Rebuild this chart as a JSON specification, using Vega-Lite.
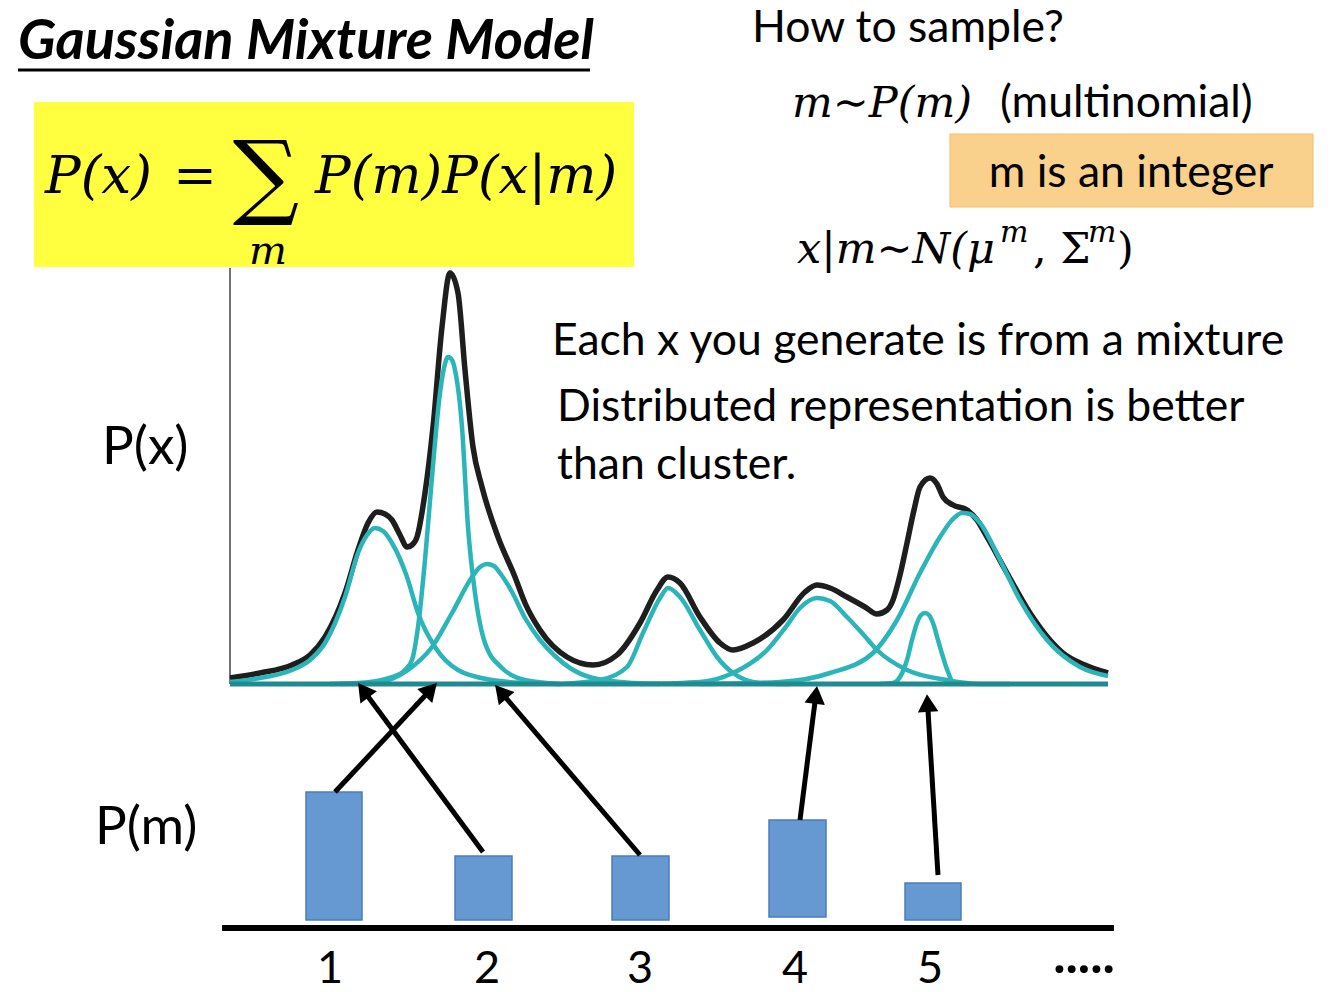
{
  "$schema": "https://vega.github.io/schema/vega-lite/v6.json",
  "width": 1334,
  "height": 992,
  "padding": 0,
  "autosize": {"type": "fit", "contains": "padding"},
  "background": "white",
  "config": {"view": {"stroke": null}},
  "encoding": {
    "x": {"field": "x", "type": "quantitative", "scale": {"domain": [0, 1334], "nice": false, "zero": false}, "axis": null},
    "y": {"field": "y", "type": "quantitative", "scale": {"domain": [0, 992], "nice": false, "zero": false, "reverse": true}, "axis": null}
  },
  "layer": [
    {
      "data": {"values": [{"x": 34, "x2": 634, "y": 102, "y2": 267}]},
      "mark": {"type": "rect", "fill": "#FFFF3F"},
      "encoding": {"x2": {"field": "x2"}, "y2": {"field": "y2"}}
    },
    {
      "data": {"values": [{"x": 950, "x2": 1313, "y": 134, "y2": 207}]},
      "mark": {"type": "rect", "fill": "#F9D08C", "stroke": "#F3BE6E", "strokeWidth": 1},
      "encoding": {"x2": {"field": "x2"}, "y2": {"field": "y2"}}
    },
    {
      "data": {"values": [{"x": 18, "x2": 590, "y": 70}]},
      "mark": {"type": "rule", "color": "#000000", "strokeWidth": 3},
      "encoding": {"x2": {"field": "x2"}}
    },
    {
      "data": {"values": [{"x": 230, "y": 268, "y2": 684}]},
      "mark": {"type": "rule", "color": "#444444", "strokeWidth": 1.5},
      "encoding": {"y2": {"field": "y2"}}
    },
    {
      "data": {"values": [
        {"x": 230, "y": 678}, {"x": 260, "y": 673}, {"x": 292, "y": 665}, {"x": 310, "y": 655}, {"x": 325, "y": 637},
        {"x": 345, "y": 593}, {"x": 358, "y": 550}, {"x": 368, "y": 523}, {"x": 377, "y": 512}, {"x": 385, "y": 514},
        {"x": 392, "y": 520}, {"x": 400, "y": 535}, {"x": 407, "y": 547}, {"x": 412, "y": 545}, {"x": 417, "y": 537},
        {"x": 425, "y": 493}, {"x": 433, "y": 427}, {"x": 442, "y": 327}, {"x": 450, "y": 273}, {"x": 458, "y": 293},
        {"x": 465, "y": 370}, {"x": 473, "y": 447}, {"x": 482, "y": 487}, {"x": 498, "y": 537}, {"x": 515, "y": 577},
        {"x": 525, "y": 603}, {"x": 540, "y": 630}, {"x": 567, "y": 657}, {"x": 593, "y": 665}, {"x": 617, "y": 655},
        {"x": 640, "y": 623}, {"x": 657, "y": 590}, {"x": 668, "y": 577}, {"x": 680, "y": 583}, {"x": 700, "y": 617},
        {"x": 720, "y": 643}, {"x": 733, "y": 650}, {"x": 753, "y": 643}, {"x": 783, "y": 620}, {"x": 805, "y": 592},
        {"x": 817, "y": 585}, {"x": 830, "y": 588}, {"x": 847, "y": 597}, {"x": 865, "y": 607}, {"x": 877, "y": 614},
        {"x": 887, "y": 610}, {"x": 893, "y": 600}, {"x": 900, "y": 575}, {"x": 907, "y": 543}, {"x": 914, "y": 510},
        {"x": 920, "y": 487}, {"x": 930, "y": 478}, {"x": 937, "y": 484}, {"x": 943, "y": 497}, {"x": 953, "y": 505},
        {"x": 967, "y": 510}, {"x": 977, "y": 520}, {"x": 987, "y": 537}, {"x": 1007, "y": 573}, {"x": 1030, "y": 613},
        {"x": 1050, "y": 640}, {"x": 1063, "y": 653}, {"x": 1085, "y": 665}, {"x": 1108, "y": 673}
      ]},
      "mark": {"type": "line", "color": "#1E1E1E", "strokeWidth": 5.5, "interpolate": "monotone"},
      "encoding": {}
    },
    {
      "data": {"values": [
        {"comp": "1", "x": 230, "y": 682}, {"comp": "1", "x": 260, "y": 678}, {"comp": "1", "x": 292, "y": 670}, {"comp": "1", "x": 310, "y": 660},
        {"comp": "1", "x": 325, "y": 643}, {"comp": "1", "x": 345, "y": 597}, {"comp": "1", "x": 358, "y": 553}, {"comp": "1", "x": 367, "y": 535},
        {"comp": "1", "x": 375, "y": 528}, {"comp": "1", "x": 383, "y": 531}, {"comp": "1", "x": 392, "y": 543}, {"comp": "1", "x": 407, "y": 577},
        {"comp": "1", "x": 418, "y": 613}, {"comp": "1", "x": 435, "y": 647}, {"comp": "1", "x": 458, "y": 670}, {"comp": "1", "x": 492, "y": 680},
        {"comp": "1", "x": 525, "y": 683}, {"comp": "1", "x": 560, "y": 684},
        {"comp": "2", "x": 330, "y": 684}, {"comp": "2", "x": 358, "y": 683}, {"comp": "2", "x": 392, "y": 677}, {"comp": "2", "x": 405, "y": 670},
        {"comp": "2", "x": 412, "y": 660}, {"comp": "2", "x": 418, "y": 627}, {"comp": "2", "x": 425, "y": 560}, {"comp": "2", "x": 432, "y": 477},
        {"comp": "2", "x": 440, "y": 393}, {"comp": "2", "x": 444, "y": 368}, {"comp": "2", "x": 448, "y": 357}, {"comp": "2", "x": 452, "y": 360},
        {"comp": "2", "x": 455, "y": 370}, {"comp": "2", "x": 462, "y": 427}, {"comp": "2", "x": 468, "y": 527}, {"comp": "2", "x": 475, "y": 593},
        {"comp": "2", "x": 485, "y": 643}, {"comp": "2", "x": 502, "y": 668}, {"comp": "2", "x": 525, "y": 680}, {"comp": "2", "x": 560, "y": 684},
        {"comp": "3", "x": 340, "y": 684}, {"comp": "3", "x": 375, "y": 683}, {"comp": "3", "x": 408, "y": 670}, {"comp": "3", "x": 432, "y": 647},
        {"comp": "3", "x": 452, "y": 613}, {"comp": "3", "x": 472, "y": 577}, {"comp": "3", "x": 480, "y": 567}, {"comp": "3", "x": 487, "y": 564},
        {"comp": "3", "x": 494, "y": 566}, {"comp": "3", "x": 500, "y": 573}, {"comp": "3", "x": 512, "y": 592}, {"comp": "3", "x": 525, "y": 618},
        {"comp": "3", "x": 540, "y": 640}, {"comp": "3", "x": 555, "y": 656}, {"comp": "3", "x": 570, "y": 668}, {"comp": "3", "x": 593, "y": 678},
        {"comp": "3", "x": 633, "y": 683}, {"comp": "3", "x": 660, "y": 684},
        {"comp": "4", "x": 560, "y": 684}, {"comp": "4", "x": 600, "y": 680}, {"comp": "4", "x": 627, "y": 667}, {"comp": "4", "x": 643, "y": 633},
        {"comp": "4", "x": 660, "y": 598}, {"comp": "4", "x": 668, "y": 588}, {"comp": "4", "x": 680, "y": 597}, {"comp": "4", "x": 700, "y": 630},
        {"comp": "4", "x": 717, "y": 657}, {"comp": "4", "x": 733, "y": 673}, {"comp": "4", "x": 760, "y": 683}, {"comp": "4", "x": 790, "y": 684},
        {"comp": "5", "x": 640, "y": 684}, {"comp": "5", "x": 700, "y": 682}, {"comp": "5", "x": 733, "y": 673}, {"comp": "5", "x": 767, "y": 650},
        {"comp": "5", "x": 785, "y": 628}, {"comp": "5", "x": 800, "y": 608}, {"comp": "5", "x": 817, "y": 598}, {"comp": "5", "x": 830, "y": 601},
        {"comp": "5", "x": 847, "y": 617}, {"comp": "5", "x": 862, "y": 633}, {"comp": "5", "x": 877, "y": 650}, {"comp": "5", "x": 907, "y": 670},
        {"comp": "5", "x": 947, "y": 680}, {"comp": "5", "x": 980, "y": 684}, {"comp": "5", "x": 1010, "y": 684},
        {"comp": "6", "x": 880, "y": 684}, {"comp": "6", "x": 893, "y": 683}, {"comp": "6", "x": 900, "y": 677}, {"comp": "6", "x": 907, "y": 660},
        {"comp": "6", "x": 912, "y": 640}, {"comp": "6", "x": 917, "y": 623}, {"comp": "6", "x": 921, "y": 615}, {"comp": "6", "x": 925, "y": 613},
        {"comp": "6", "x": 929, "y": 615}, {"comp": "6", "x": 933, "y": 623}, {"comp": "6", "x": 938, "y": 640}, {"comp": "6", "x": 943, "y": 657},
        {"comp": "6", "x": 948, "y": 672}, {"comp": "6", "x": 953, "y": 682}, {"comp": "6", "x": 965, "y": 684},
        {"comp": "7", "x": 700, "y": 684}, {"comp": "7", "x": 780, "y": 682}, {"comp": "7", "x": 830, "y": 673}, {"comp": "7", "x": 873, "y": 653},
        {"comp": "7", "x": 897, "y": 620}, {"comp": "7", "x": 920, "y": 573}, {"comp": "7", "x": 940, "y": 537}, {"comp": "7", "x": 952, "y": 520},
        {"comp": "7", "x": 962, "y": 513}, {"comp": "7", "x": 970, "y": 514}, {"comp": "7", "x": 980, "y": 523}, {"comp": "7", "x": 1000, "y": 560},
        {"comp": "7", "x": 1020, "y": 600}, {"comp": "7", "x": 1047, "y": 640}, {"comp": "7", "x": 1080, "y": 667}, {"comp": "7", "x": 1108, "y": 676}
      ]},
      "mark": {"type": "line", "color": "#2BB5B8", "strokeWidth": 4.5, "interpolate": "monotone"},
      "encoding": {"detail": {"field": "comp", "type": "nominal"}}
    },
    {
      "data": {"values": [{"x": 230, "x2": 1108, "y": 684}]},
      "mark": {"type": "rule", "color": "#1F8A90", "strokeWidth": 5},
      "encoding": {"x2": {"field": "x2"}}
    },
    {
      "data": {"values": [{"x": 222, "x2": 1114, "y": 928}]},
      "mark": {"type": "rule", "color": "#000000", "strokeWidth": 6},
      "encoding": {"x2": {"field": "x2"}}
    },
    {
      "data": {"values": [
        {"m": 1, "x": 306, "x2": 362, "y": 792, "y2": 920},
        {"m": 2, "x": 455, "x2": 512, "y": 856, "y2": 920},
        {"m": 3, "x": 612, "x2": 669, "y": 856, "y2": 920},
        {"m": 4, "x": 769, "x2": 826, "y": 820, "y2": 917},
        {"m": 5, "x": 905, "x2": 961, "y": 883, "y2": 920}
      ]},
      "mark": {"type": "rect", "fill": "#6699D2", "stroke": "#4A7EBB", "strokeWidth": 1.5},
      "encoding": {"x2": {"field": "x2"}, "y2": {"field": "y2"}}
    },
    {
      "data": {"values": [
        {"m": 1, "x": 335, "y": 792, "tx": 437, "ty": 683},
        {"m": 2, "x": 483, "y": 852, "tx": 358, "ty": 683},
        {"m": 3, "x": 640, "y": 855, "tx": 495, "ty": 685},
        {"m": 4, "x": 800, "y": 820, "tx": 817, "ty": 686},
        {"m": 5, "x": 938, "y": 875, "tx": 927, "ty": 694}
      ]},
      "transform": [
        {"calculate": "sqrt(pow(datum.tx - datum.x, 2) + pow(datum.ty - datum.y, 2))", "as": "len"},
        {"calculate": "datum.tx - 9 * (datum.tx - datum.x) / datum.len", "as": "hx"},
        {"calculate": "datum.ty - 9 * (datum.ty - datum.y) / datum.len", "as": "hy"},
        {"calculate": "atan2(datum.tx - datum.x, datum.y - datum.ty) * 180 / PI", "as": "ang"}
      ],
      "layer": [
        {
          "mark": {"type": "rule", "color": "#000000", "strokeWidth": 5},
          "encoding": {"x2": {"field": "hx"}, "y2": {"field": "hy"}}
        },
        {
          "mark": {"type": "point", "shape": "triangle-up", "filled": true, "color": "#000000", "opacity": 1, "size": 420},
          "encoding": {
            "x": {"field": "hx", "type": "quantitative"},
            "y": {"field": "hy", "type": "quantitative"},
            "angle": {"field": "ang", "type": "quantitative", "scale": null}
          }
        }
      ]
    },
    {
      "data": {"values": [{"x": 18, "y": 59, "label": "Gaussian Mixture Model"}]},
      "mark": {"type": "text", "font": "Lato", "fontSize": 56, "fontWeight": "bold", "fontStyle": "italic", "align": "left", "baseline": "alphabetic", "color": "#000000"},
      "encoding": {"text": {"field": "label"}}
    },
    {
      "data": {"values": [
        {"x": 752, "y": 42, "label": "How to sample?"},
        {"x": 1000, "y": 117, "label": "(multinomial)"},
        {"x": 552, "y": 355, "label": "Each x you generate is from a mixture"},
        {"x": 557, "y": 421, "label": "Distributed representation is better"},
        {"x": 557, "y": 479, "label": "than cluster."}
      ]},
      "mark": {"type": "text", "font": "Lato", "fontSize": 44.5, "align": "left", "baseline": "alphabetic", "color": "#000000"},
      "encoding": {"text": {"field": "label"}}
    },
    {
      "data": {"values": [{"x": 1131, "y": 187, "label": "m is an integer"}]},
      "mark": {"type": "text", "font": "Lato", "fontSize": 44.5, "align": "center", "baseline": "alphabetic", "color": "#000000"},
      "encoding": {"text": {"field": "label"}}
    },
    {
      "data": {"values": [{"x": 102, "y": 464, "label": "P(x)"}, {"x": 95, "y": 844, "label": "P(m)"}]},
      "mark": {"type": "text", "font": "Lato", "fontSize": 53, "align": "left", "baseline": "alphabetic", "color": "#000000"},
      "encoding": {"text": {"field": "label"}}
    },
    {
      "data": {"values": [
        {"x": 330, "y": 983, "label": "1"}, {"x": 487, "y": 983, "label": "2"}, {"x": 640, "y": 983, "label": "3"},
        {"x": 795, "y": 983, "label": "4"}, {"x": 930, "y": 983, "label": "5"}
      ]},
      "mark": {"type": "text", "font": "Lato", "fontSize": 45, "align": "center", "baseline": "alphabetic", "color": "#000000"},
      "encoding": {"text": {"field": "label"}}
    },
    {
      "data": {"values": [{"x": 1084, "y": 973, "label": "....."}]},
      "mark": {"type": "text", "font": "Lato", "fontSize": 52, "fontWeight": "bold", "align": "center", "baseline": "alphabetic", "color": "#000000"},
      "encoding": {"text": {"field": "label"}}
    },
    {
      "data": {"values": [{"x": 45, "y": 193, "label": "P(x)"}, {"x": 315, "y": 193, "label": "P(m)P(x|m)"}]},
      "mark": {"type": "text", "font": "DejaVu Serif", "fontSize": 53, "fontStyle": "italic", "align": "left", "baseline": "alphabetic", "color": "#000000"},
      "encoding": {"text": {"field": "label"}}
    },
    {
      "data": {"values": [{"x": 195, "y": 193, "label": "="}]},
      "mark": {"type": "text", "font": "DejaVu Serif", "fontSize": 52, "align": "center", "baseline": "alphabetic", "color": "#000000"},
      "encoding": {"text": {"field": "label"}}
    },
    {
      "data": {"values": [{"x": 266, "y": 207, "label": "∑"}]},
      "mark": {"type": "text", "font": "DejaVu Serif", "fontSize": 93, "align": "center", "baseline": "alphabetic", "color": "#000000"},
      "encoding": {"text": {"field": "label"}}
    },
    {
      "data": {"values": [{"x": 268, "y": 264, "label": "m"}]},
      "mark": {"type": "text", "font": "DejaVu Serif", "fontSize": 40, "fontStyle": "italic", "align": "center", "baseline": "alphabetic", "color": "#000000"},
      "encoding": {"text": {"field": "label"}}
    },
    {
      "data": {"values": [
        {"x": 792, "y": 117, "label": "m∼P(m)"},
        {"x": 797, "y": 263, "label": "x|m∼N(μ"}
      ]},
      "mark": {"type": "text", "font": "DejaVu Serif", "fontSize": 43, "fontStyle": "italic", "align": "left", "baseline": "alphabetic", "color": "#000000"},
      "encoding": {"text": {"field": "label"}}
    },
    {
      "data": {"values": [
        {"x": 1033, "y": 263, "label": ", Σ"},
        {"x": 1117, "y": 263, "label": ")"}
      ]},
      "mark": {"type": "text", "font": "DejaVu Serif", "fontSize": 43, "align": "left", "baseline": "alphabetic", "color": "#000000"},
      "encoding": {"text": {"field": "label"}}
    },
    {
      "data": {"values": [{"x": 1000, "y": 242, "label": "m"}, {"x": 1088, "y": 242, "label": "m"}]},
      "mark": {"type": "text", "font": "DejaVu Serif", "fontSize": 30, "fontStyle": "italic", "align": "left", "baseline": "alphabetic", "color": "#000000"},
      "encoding": {"text": {"field": "label"}}
    }
  ]
}
